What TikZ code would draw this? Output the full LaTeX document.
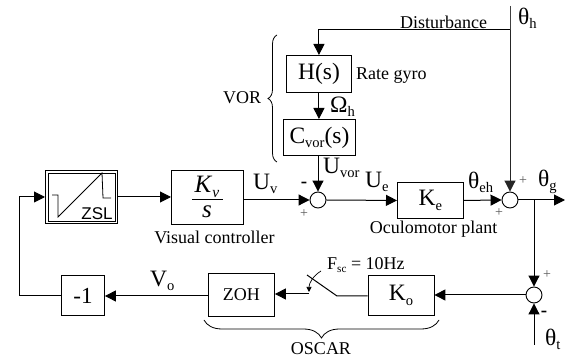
\documentclass[tikz,border=0pt]{standalone}
\usepackage{fontspec}
\setmainfont{Liberation Serif}
\newfontfamily\zslfont{Liberation Sans}
\usetikzlibrary{arrows.meta,decorations.pathreplacing,calc}
\newcommand{\subx}[1]{\raisebox{-0.18em}{\scalebox{0.62}{#1}}}
\tikzset{
  blk/.style={draw,line width=0.9pt,inner sep=0pt,anchor=north west},
  sumn/.style={draw,circle,line width=0.9pt,inner sep=0pt,minimum size=16pt},
  conn/.style={line width=1pt,-{Triangle[length=11pt,width=11pt]}},
  plain/.style={line width=1pt},
  big/.style={font=\fontsize{23.5}{23.5}\selectfont,inner sep=0pt},
  mid/.style={font=\fontsize{18}{18}\selectfont,inner sep=0pt},
  sgn/.style={font=\fontsize{14}{14}\selectfont,inner sep=0pt,text=black!65},
  minus/.style={font=\bfseries\fontsize{19}{19}\selectfont,inner sep=0pt},
  curly/.style={decorate,line width=0.8pt}
}
\begin{document}
\begin{tikzpicture}[x=1pt,y=-1pt]
\useasboundingbox (0,0) rectangle (566,358);
% blocks
\node[blk,minimum width=72pt,minimum height=53pt] (zsl) at (45,170) {};
\node[draw,line width=0.8pt,minimum width=67pt,minimum height=48pt,inner sep=0pt] (zslin) at (zsl.center) {};
\node[font=\zslfont\fontsize{17}{17}\selectfont,inner sep=0pt] (zsltxt) at (97,214) {ZSL};
\draw[line width=0.8pt] (52,195) -- (58,195) -- (58,217) -- (102,173) -- (103,198) -- (111,198);
\node[blk,minimum width=72pt,minimum height=54pt] (kv) at (171,170) {};
\node[inner sep=0pt,font=\fontsize{25}{25}\selectfont] (kvn) at (207,187) {\textit{K}\subx{\textit{v}}};
\node[inner sep=0pt,font=\fontsize{25}{25}\selectfont] (kvd) at (207,212) {\textit{s}};
\draw[line width=0.9pt] (192,199) -- (223,199);
\node[blk,big,minimum width=65pt,minimum height=37pt] (h) at (286,55) {H(s)};
\node[blk,big,minimum width=72pt,minimum height=36pt] (c) at (283,119) {C\subx{vor}(s)};
\node[blk,big,minimum width=66pt,minimum height=36pt] (ke) at (397,182) {K\subx{e}};
\node[blk,mid,minimum width=43pt,minimum height=40pt] (neg) at (61,275) {\fontsize{23}{23}\selectfont -1};
\node[blk,mid,minimum width=66pt,minimum height=43pt] (zoh) at (208,273) {ZOH};
\node[blk,big,minimum width=66pt,minimum height=40pt] (ko) at (367.5,275) {K\subx{o}};
% summing junctions
\node[sumn] (s1) at (318,200) {};
\node[sumn] (s2) at (510,200) {};
\node[sumn] (s3) at (534,295) {};
% free ends
\coordinate (thtop) at (510,6);
\coordinate (thknee) at (510,30);
\coordinate (hknee) at (h.north |- thknee);
\coordinate (gout) at (565,200);
\coordinate (gbr) at (534,200);
\coordinate (ttend) at (534,345);
\coordinate (fbk) at (19,296);
\coordinate (fbt) at (19,197);
\coordinate (swa) at (337,296);
\coordinate (swb) at (307,275);
\coordinate (swc) at (309,294);
% connectors
\draw[plain,black!75] (thtop) -- (thknee);
\draw[conn] (thknee) -- (hknee) -- (h.north);
\draw[conn] (h.south) -- (h.south |- c.north);
\draw[conn] (c.south -| s1.north) -- (s1.north);
\draw[conn] (zsl.east |- fbt) -- (kv.west |- fbt);
\draw[conn] (kv.east |- s1.west) -- (s1.west);
\draw[conn] (s1.east) -- (ke.west);
\draw[conn] (ke.east) -- (s2.west);
\draw[conn,black!85] (thknee) -- (s2.north);
\draw[conn] (s2.east) -- (gout);
\draw[conn] (gbr) -- (s3.north);
\draw[conn] (ttend) -- (s3.south);
\draw[conn] (s3.west) -- (ko.east |- s3.west);
\draw[plain] (ko.west |- swa) -- (swa) -- (swb);
\draw[conn] (swc) -- (zoh.east |- swc);
\draw[conn] (zoh.west |- fbk) -- (neg.east |- fbk);
\draw[conn] (neg.west |- fbk) -- (fbk) -- (fbt) -- (zsl.west |- fbt);
\draw[line width=0.7pt,-{Triangle[length=5pt,width=5pt]}] (321,271) .. controls (313,276) and (309,283) .. (309,292);
% braces
\draw[curly,decoration={brace,mirror,amplitude=9pt,aspect=0.5}] (277,35) -- (277,162);
\draw[curly,decoration={brace,mirror,amplitude=18pt,aspect=0.5}] (204,320) -- (439,320);
% labels
\node[mid,anchor=west] (ldist) at (400,22) {Disturbance};
\node[big,anchor=west] (lth) at (518,18) {θ\subx{h}};
\node[mid,anchor=west] (lrg) at (356,76) {Rate gyro};
\node[mid,anchor=west] (lvor) at (223,98) {VOR};
\node[big,anchor=west] (lom) at (330,107) {Ω\subx{h}};
\node[big,anchor=west] (luv) at (323,168) {U\subx{vor}};
\node[big,anchor=west] (luv2) at (253,184) {U\subx{v}};
\node[big,anchor=west] (lue) at (365,182) {U\subx{e}};
\node[big,anchor=west] (lte) at (468,182) {θ\subx{eh}};
\node[big,anchor=west] (ltg) at (538,182) {θ\subx{g}};
\node[big,anchor=west] (lvo) at (150,281) {V\subx{o}};
\node[mid,anchor=west] (lf) at (327,265) {F\subx{sc} = 10Hz};
\node[big,anchor=west] (ltt) at (545,339) {θ\subx{t}};
\node[mid] (lvc) at (214.5,237) {Visual controller};
\node[mid] (lop) at (433.5,229) {Oculomotor plant};
\node[mid] (los) at (321,349) {OSCAR};
% signs
\node[sgn] (p1) at (304,214) {+};
\node[minus] (m1) at (304,185) {-};
\node[sgn] (p2) at (523,181) {+};
\node[sgn] (p3) at (499,213) {+};
\node[sgn] (p4) at (547,275) {+};
\node[minus] (m2) at (544,314) {-};
\end{tikzpicture}
\end{document}
